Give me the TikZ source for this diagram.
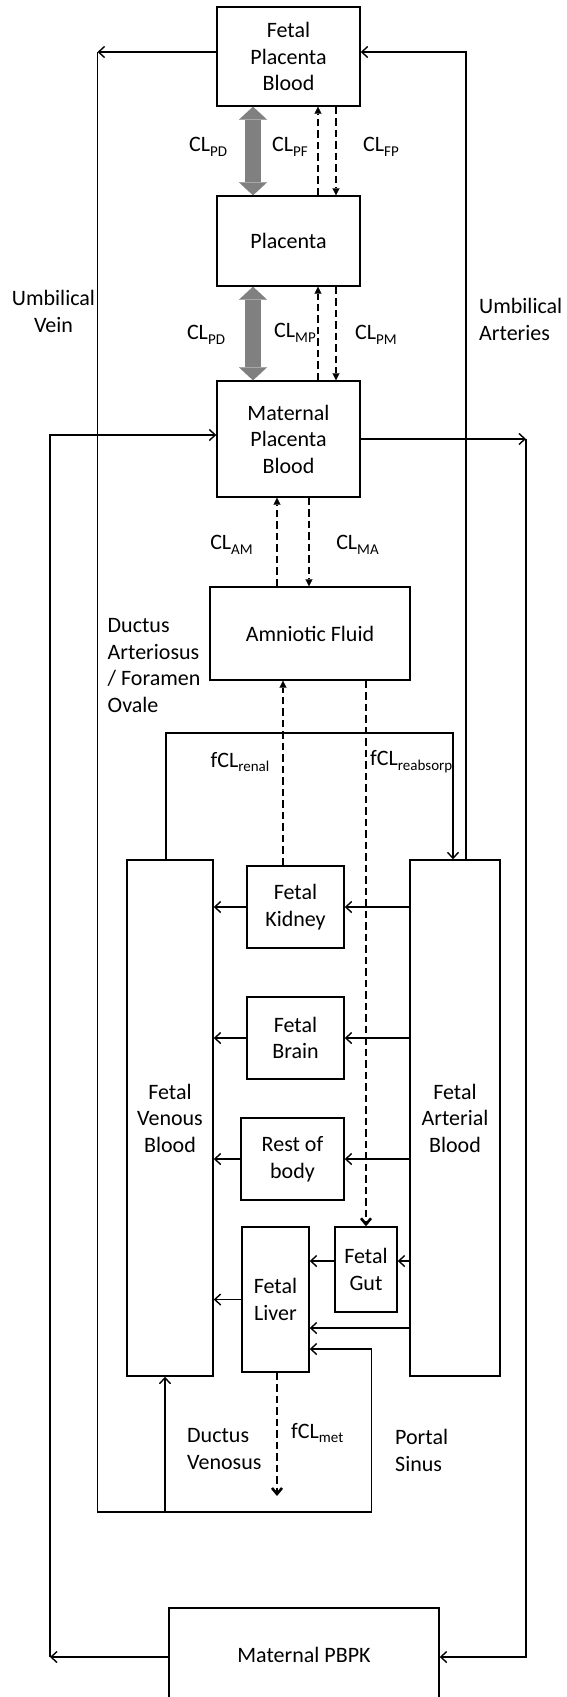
\documentclass[tikz,border=0pt]{standalone}
\usepackage{fontspec}
\setmainfont{Carlito}
\usetikzlibrary{arrows.meta}
\newcommand{\mysub}[1]{\raisebox{-0.22em}{\fontsize{15}{15}\selectfont #1}}
\definecolor{arrgray}{RGB}{128,128,128}
\begin{document}
\begin{tikzpicture}[x=1pt,y=-1pt,
  every node/.style={font=\fontsize{22}{26.5}\selectfont},
  box/.style={draw, line width=1.4pt, inner sep=0pt, align=center},
  conn/.style={line width=1.4pt},
  arr/.style={conn, -{Straight Barb[length=6pt,width=11pt]}},
  dsh/.style={line width=2.9pt, dash pattern=on 7.5pt off 4pt, -{Triangle[length=7pt,width=7pt,line width=0.1pt]}},
  dshv/.style={line width=2.9pt, dash pattern=on 7.5pt off 4pt, -{Straight Barb[length=6pt,width=10pt,line width=2.6pt]}},
  garr/.style={line width=16pt, arrgray, {Triangle[width=28pt,length=13pt,line width=0.1pt]}-{Triangle[width=28pt,length=13pt,line width=0.1pt]}},
  lbl/.style={inner sep=0pt},
]
\useasboundingbox (0,0) rectangle (566,1697);

% boxes
\node[box, minimum width=143pt, minimum height=99pt] (FPB) at (288.5,56.5) {Fetal\\Placenta\\Blood};
\node[box, minimum width=143pt, minimum height=90pt] (Plac) at (288.5,241) {Placenta};
\node[box, minimum width=143pt, minimum height=116pt] (MPB) at (288.5,439) {Maternal\\Placenta\\Blood};
\node[box, minimum width=200pt, minimum height=93pt] (Amn) at (310,633.5) {Amniotic Fluid};
\node[box, minimum width=86pt, minimum height=516pt] (Ven) at (170,1118) {Fetal\\Venous\\Blood};
\node[box, minimum width=90pt, minimum height=516pt] (Art) at (455,1118) {Fetal\\Arterial\\Blood};
\node[box, minimum width=97pt, minimum height=82pt] (Kid) at (295.5,907) {Fetal\\Kidney};
\node[box, minimum width=97pt, minimum height=82pt] (Brn) at (295.5,1038) {Fetal\\Brain};
\node[box, minimum width=103pt, minimum height=82pt] (Rest) at (292.5,1159) {Rest of\\body};
\node[box, minimum width=62pt, minimum height=85pt] (Gut) at (366,1269.5) {Fetal\\Gut};
\node[box, minimum width=67pt, minimum height=145pt] (Liv) at (275.5,1299.5) {Fetal\\Liver};
\node[box, minimum width=270pt, minimum height=94pt] (PBPK) at (304,1655) {Maternal PBPK};

% corner coordinates
\coordinate (uvt) at (97.5,52);
\coordinate (uvb) at (97.5,1512);
\coordinate (psb) at (371.5,1512);
\coordinate (psl) at (371.5,1349);
\coordinate (dvb) at (165,1512);
\coordinate (uat) at (466,52);
\coordinate (mlt) at (50,435);
\coordinate (mlb) at (50,1657);
\coordinate (mrt) at (526,439);
\coordinate (mrb) at (526,1657);
\coordinate (dal) at (166,733);
\coordinate (dar) at (453,733);
\coordinate (gy) at (0,1261);
\coordinate (aly) at (0,1328);
\coordinate (xa) at (318,0);
\coordinate (xb) at (336,0);
\coordinate (xc) at (277,0);
\coordinate (xd) at (309,0);
\coordinate (xe) at (283,0);
\coordinate (xg) at (253,0);
\coordinate (met) at (277,1496);

% circulation lines
\draw[arr] (FPB.west |- uvt) -- (uvt);
\draw[arr] (uvt) -- (uvb) -- (psb) -- (psl) -- (Liv.east |- psl);
\draw[arr] (dvb) -- (Ven.south -| dvb);
\draw[arr] (Art.north -| uat) -- (uat) -- (FPB.east |- uat);
\draw[arr] (PBPK.west |- mlb) -- (mlb);
\draw[arr] (mlb) -- (mlt) -- (MPB.west |- mlt);
\draw[arr] (MPB.east |- mrt) -- (mrt);
\draw[arr] (mrt) -- (mrb) -- (PBPK.east |- mrb);
\draw[arr] (Ven.north -| dal) -- (dal) -- (dar) -- (Art.north -| dar);

% organ flows
\draw[arr] (Art.west |- Kid.east) -- (Kid.east);
\draw[arr] (Kid.west) -- (Ven.east |- Kid.west);
\draw[arr] (Art.west |- Brn.east) -- (Brn.east);
\draw[arr] (Brn.west) -- (Ven.east |- Brn.west);
\draw[arr] (Art.west |- Rest.east) -- (Rest.east);
\draw[arr] (Rest.west) -- (Ven.east |- Rest.west);
\draw[arr] (Art.west |- gy) -- (Gut.east |- gy);
\draw[arr] (Gut.west |- gy) -- (Liv.east |- gy);
\draw[arr] (Liv.west) -- (Ven.east |- Liv.west);
\draw[arr] (Art.west |- aly) -- (Liv.east |- aly);

% clearances
\draw[garr] (FPB.south -| xg) -- (Plac.north -| xg);
\draw[garr] (Plac.south -| xg) -- (MPB.north -| xg);
\draw[dsh] (Plac.north -| xa) -- (FPB.south -| xa);
\draw[dsh] (FPB.south -| xb) -- (Plac.north -| xb);
\draw[dsh] (MPB.north -| xa) -- (Plac.south -| xa);
\draw[dsh] (Plac.south -| xb) -- (MPB.north -| xb);
\draw[dsh] (Amn.north -| xc) -- (MPB.south -| xc);
\draw[dsh] (MPB.south -| xd) -- (Amn.north -| xd);
\draw[dsh] (Kid.north -| xe) -- (Amn.south -| xe);
\draw[dshv] (Amn.south -| Gut.north) -- (Gut.north);
\draw[dshv] (Liv.south -| met) -- (met);

% labels
\node[lbl] (lPD1) at (208,147) {CL\mysub{PD}};
\node[lbl] (lPF) at (290,147) {CL\mysub{PF}};
\node[lbl] (lFP) at (381,147) {CL\mysub{FP}};
\node[lbl] (lPD2) at (206,335) {CL\mysub{PD}};
\node[lbl] (lMP) at (295,333) {CL\mysub{MP}};
\node[lbl] (lPM) at (376,335) {CL\mysub{PM}};
\node[lbl] (lAM) at (231.5,545) {CL\mysub{AM}};
\node[lbl] (lMA) at (357.5,545) {CL\mysub{MA}};
\node[lbl] (lren) at (240,762) {fCL\mysub{renal}};
\node[lbl,anchor=west] (lreab) at (370,762) {fCL\mysub{reabsorp}};
\node[lbl,anchor=west] (lmet) at (291,1433) {fCL\mysub{met}};
\node[lbl,align=center] (uv) at (53.5,311.5) {Umbilical\\Vein};
\node[lbl,align=left,anchor=west] (ua) at (479,319.5) {Umbilical\\Arteries};
\node[lbl,align=left,anchor=west] (da) at (107.5,665.5) {Ductus\\Arteriosus\\/ Foramen\\Ovale};
\node[lbl,align=left,anchor=west] (dv) at (187,1449) {Ductus\\Venosus};
\node[lbl,align=left,anchor=west] (ps) at (395,1450.5) {Portal\\Sinus};
\end{tikzpicture}
\end{document}
